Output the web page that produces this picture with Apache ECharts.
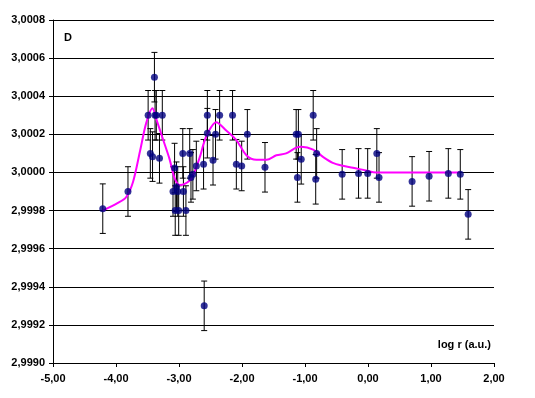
<!DOCTYPE html>
<html>
<head>
<meta charset="utf-8">
<script src="https://cdn.jsdelivr.net/npm/echarts@6/dist/echarts.min.js"></script>
<style>
    html, body { margin: 0; padding: 0; background: #fff; }
    #chart { width: 535px; height: 398px; }
</style>
</head>
<body>
<div id="chart"></div>
<script>
// 测量点 (log r, D)
const logR = [-4.21, -3.81, -3.49, -3.455, -3.42, -3.39, -3.38, -3.36, -3.31, -3.265,
    -3.095, -3.07, -3.06, -3.04, -3.02, -3.005, -2.94, -2.93, -2.89, -2.83,
    -2.81, -2.78, -2.725, -2.61, -2.60, -2.55, -2.55, -2.46, -2.42, -2.355,
    -2.15, -2.09, -2.005, -1.915, -1.635, -1.14, -1.105, -1.12, -1.06, -0.87,
    -0.83, -0.815, -0.41, -0.15, -0.005, 0.14, 0.175, 0.70, 0.97, 1.275,
    1.465, 1.59];
const dVals = [2.99981, 2.99990, 3.00030, 3.00010, 3.000083, 3.00050, 3.00030, 3.00030, 3.000074, 3.00030,
    2.99990, 3.000023, 2.99980, 2.999925, 2.99990, 2.99980, 3.00010, 2.99990, 2.99980, 3.00010,
    2.999974, 2.99999, 3.000034, 3.000043, 2.99930, 3.00030, 3.000206, 3.000064, 3.00020, 3.00030,
    3.00030, 3.000043, 3.000034, 3.00020, 3.000027, 3.00020, 3.00020, 2.999974, 3.000069, 3.00030,
    2.999964, 3.00010, 2.99999, 2.999995, 2.999995, 3.00010, 2.999974, 2.999953, 2.99998, 2.999995,
    2.99999, 2.99978];
const dErr = [0.00013, 0.00013, 0.00013, 0.00013, 0.00013, 0.00013, 0.00013, 0.00013, 0.00013, 0.00013,
    0.00013, 0.00013, 0.00013, 0.00013, 0.00013, 0.00013, 0.00013, 0.00013, 0.00013, 0.00013,
    0.00013, 0.00013, 0.00013, 0.00013, 0.00013, 0.00013, 0.00013, 0.00013, 0.00013, 0.00013,
    0.00013, 0.00013, 0.00013, 0.00013, 0.00013, 0.00013, 0.00013, 0.00013, 0.00013, 0.00013,
    0.00013, 0.00013, 0.00013, 0.00013, 0.00013, 0.00013, 0.00013, 0.00013, 0.00013, 0.00013,
    0.00013, 0.00013];

// 平滑曲线
const fitX = [-4.21, -3.97, -3.84, -3.73, -3.62, -3.52, -3.42, -3.36, -3.25, -3.15,
    -3.07, -2.99, -2.91, -2.80, -2.67, -2.61, -2.54, -2.41, -2.25, -2.09,
    -1.93, -1.77, -1.61, -1.455, -1.30, -1.14, -1.06, -0.87, -0.71, -0.56,
    -0.40, -0.24, -0.03, 0.13, 0.80, 1.455];
const fitY = [2.99980, 2.99984, 2.99987, 2.99995, 3.00011, 3.00026, 3.000337, 3.00028, 3.00017, 3.00007,
    2.99997, 2.999934, 2.99994, 2.99997, 3.00008, 3.00015, 3.00021, 3.000264, 3.00022, 3.00017,
    3.00009, 3.000066, 3.000066, 3.00009, 3.00010, 3.00013, 3.000135, 3.00012, 3.00008, 3.00005,
    3.000035, 3.000025, 3.00001, 3.00000, 3.00000, 3.00000];

const labelFont = { fontFamily: 'Liberation Sans', fontWeight: 'bold', fontSize: 11, color: '#000' };

const chart = echarts.init(document.getElementById('chart'));

const option = {
    animation: false,
    backgroundColor: '#fff',
    grid: { left: 53, right: 41, top: 20, bottom: 35 },
    xAxis: {
        type: 'value',
        min: -5, max: 2, interval: 1,
        axisLine: { show: true, onZero: false, lineStyle: { color: '#000', width: 1 } },
        axisTick: { show: true, length: 4, lineStyle: { color: '#000' } },
        splitLine: { show: false },
        axisLabel: Object.assign({ margin: 10, formatter: v => v.toFixed(2).replace('.', ',') }, labelFont)
    },
    yAxis: {
        type: 'value',
        min: 2.9990, max: 3.0008, interval: 0.0002,
        axisLine: { show: true, onZero: false, lineStyle: { color: '#000', width: 1 } },
        axisTick: { show: true, length: 4, lineStyle: { color: '#000' } },
        splitLine: { show: true, lineStyle: { color: '#000', width: 1 } },
        axisLabel: Object.assign({ margin: 8, formatter: v => v.toFixed(4).replace('.', ',') }, labelFont)
    },
    graphic: [
        { type: 'text', left: 64, top: 32, style: { text: 'D', fill: '#000', font: 'bold 11px "Liberation Sans"' } },
        { type: 'text', right: 44, top: 339, style: { text: 'log r (a.u.)', fill: '#000', font: 'bold 11px "Liberation Sans"' } }
    ],
    series: [
        {
            type: 'custom',
            z: 2,
            data: logR.map((x, i) => [x, dVals[i] - dErr[i], dVals[i] + dErr[i]]),
            renderItem: function (params, api) {
                const lo = api.coord([api.value(0), api.value(1)]);
                const hi = api.coord([api.value(0), api.value(2)]);
                const cap = 3;
                const st = { stroke: '#000', lineWidth: 1 };
                return {
                    type: 'group',
                    children: [
                        { type: 'line', shape: { x1: lo[0], y1: lo[1], x2: hi[0], y2: hi[1] }, style: st },
                        { type: 'line', shape: { x1: lo[0] - cap, y1: lo[1], x2: lo[0] + cap, y2: lo[1] }, style: st },
                        { type: 'line', shape: { x1: hi[0] - cap, y1: hi[1], x2: hi[0] + cap, y2: hi[1] }, style: st }
                    ]
                };
            }
        },
        {
            type: 'line',
            z: 3,
            data: fitX.map((x, i) => [x, fitY[i]]),
            smooth: 0.3,
            showSymbol: false,
            lineStyle: { color: '#ff00ff', width: 2 }
        },
        {
            type: 'scatter',
            z: 4,
            data: logR.map((x, i) => [x, dVals[i]]),
            symbol: 'circle',
            symbolSize: 7,
            itemStyle: { color: '#000080' }
        }
    ]
};
chart.setOption(option);
</script>
</body>
</html>
